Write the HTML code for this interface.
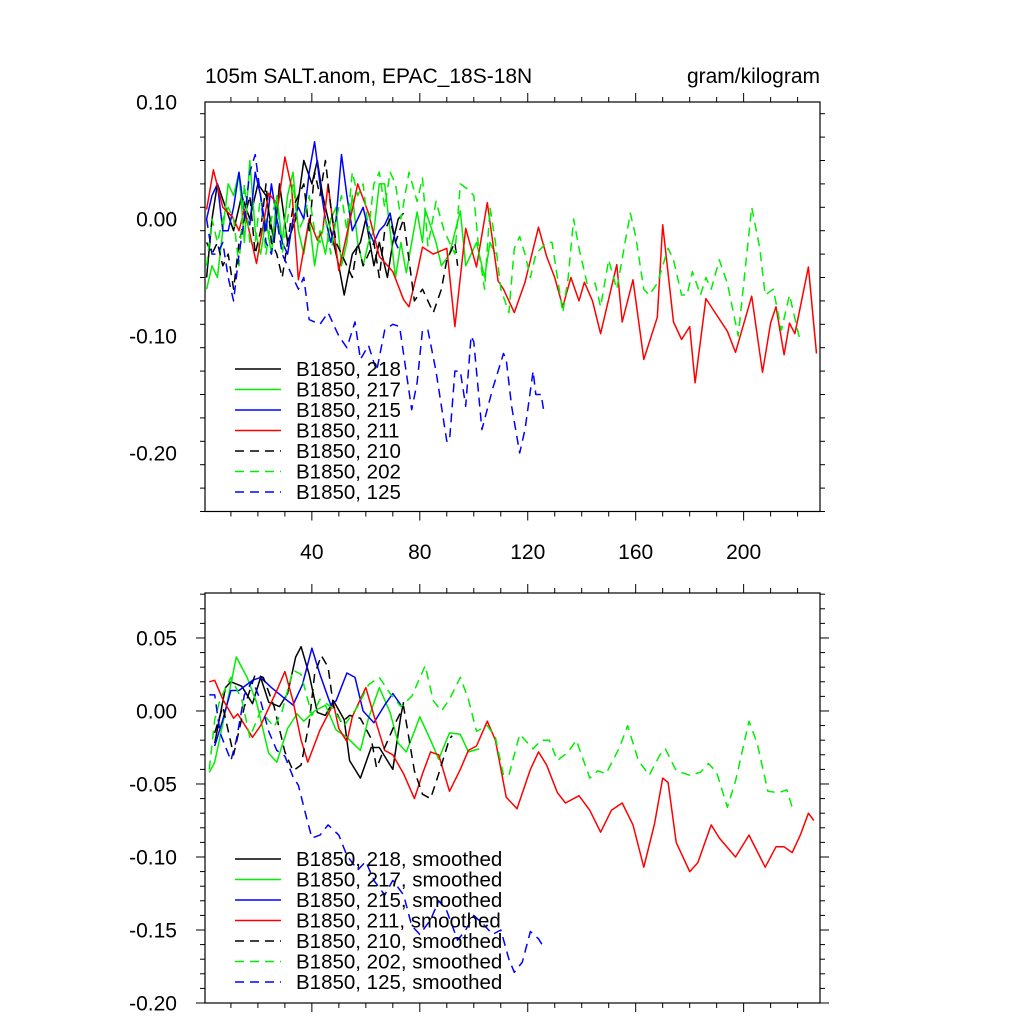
<!DOCTYPE html>
<html><head><meta charset="utf-8">
<style>
html,body{margin:0;padding:0;background:#fff;}
svg{display:block;font-family:"Liberation Sans",sans-serif;}
</style></head>
<body>
<svg id="chart" width="1024" height="1024" viewBox="0 0 1024 1024" xmlns="http://www.w3.org/2000/svg">
<rect width="1024" height="1024" fill="#fff"/>
<text x="205" y="83" font-size="21">105m SALT.anom, EPAC_18S-18N</text>
<text x="820" y="83" font-size="21" text-anchor="end">gram/kilogram</text>
<g id="topPanel"></g>
<g id="botPanel"></g>
</svg>
<script>
// ---------- data (raw panel) ----------
const x218 = [1,3,5,8,11,14,17,20,23,26,28,31,34,37,40,42,44,47,50,52,55,58,60,63,65,68,70,72,74];
const v218 = [-0.05,0.0,0.03,0.01,-0.01,0.02,0.0,0.03,0.02,-0.02,0.03,-0.02,0.0,0.05,0.03,0.05,0.02,-0.01,-0.04,-0.065,-0.03,-0.02,0.0,-0.04,-0.02,-0.05,-0.02,0.0,0.005];
const x217 = [1,3,5,7,9,11,13,15,17,19,21,23,25,27,29,31,33,35,37,39,41,43,45,47,49,51,53,55,57,59,61,63,65,67,69,71,73,75,79,81,82,86,88,91,95,97,101,104,106,108];
const v217 = [-0.06,-0.04,-0.05,-0.01,0.03,0.02,0.04,-0.02,0.05,-0.01,-0.03,0.0,-0.03,0.02,-0.02,0.02,0.04,-0.01,-0.03,0.0,-0.04,-0.01,-0.03,0.0,0.01,-0.04,-0.02,0.02,-0.02,-0.04,-0.02,-0.01,0.03,0.03,-0.01,-0.05,-0.02,-0.046,0.006,-0.02,0.008,-0.02,-0.04,-0.03,0.007,-0.04,-0.02,-0.05,-0.02,-0.03];
const x215 = [1,3,5,7,9,11,13,15,17,19,21,23,25,27,29,31,33,35,37,39,41,43,45,47,49,51,53,55,57,59,61,63,65,67,69,71,72];
const v215 = [0.0,0.02,0.03,-0.01,-0.01,0.01,0.04,0.005,-0.005,0.04,0.02,-0.01,0.03,0.0,-0.02,-0.03,0.0,0.01,0.0,0.04,0.066,0.03,0.0,-0.02,0.0,0.055,0.02,-0.01,0.0,0.01,-0.01,-0.02,-0.01,-0.005,0.005,-0.02,-0.025];
const x211 = [1,3.5,7,10.5,13,15,19.5,24,27.5,30,32.5,35,39,42,44,46,50,55,57,61,65,70,74,76,79,81,85,90,93,97,101,105,109,111,115,119,124,127,130,133,136,139,141,144,147,153,155,159,163,168,170,174,177,180,182,186,190,194,197,203,207,210,212,215,217,219,224,227];
const v211 = [0.008,0.042,0.01,0.002,-0.01,0.008,-0.038,0.022,0.012,0.053,0.027,-0.052,0.0,-0.018,-0.01,0.03,-0.044,0.008,0.03,0.005,-0.032,-0.045,-0.069,-0.075,-0.046,-0.024,-0.03,-0.025,-0.092,-0.008,-0.041,0.014,-0.053,-0.06,-0.08,-0.054,-0.007,-0.032,-0.05,-0.075,-0.05,-0.07,-0.054,-0.07,-0.098,-0.039,-0.088,-0.052,-0.12,-0.084,-0.005,-0.088,-0.103,-0.092,-0.14,-0.068,-0.082,-0.096,-0.114,-0.066,-0.131,-0.089,-0.075,-0.116,-0.089,-0.098,-0.041,-0.115];
const x210 = [1,3,5,7,9,11,13,15,17,19,21,23,25,27,29,31,33,35,37,39,41,43,45,47,49,51,53,55,57,59,61,63,65,67,69,71,74,78,81,85,88,90,93,94];
const v210 = [-0.02,-0.03,-0.02,-0.04,-0.03,-0.06,-0.02,0.0,0.02,-0.03,-0.01,0.03,-0.02,-0.03,-0.05,-0.02,0.01,0.02,0.03,-0.01,0.04,0.02,0.05,0.01,-0.02,-0.03,-0.04,-0.05,-0.02,-0.04,-0.03,-0.02,-0.05,-0.01,0.0,-0.02,0.0,-0.07,-0.06,-0.08,-0.06,-0.035,-0.02,-0.04];
const x202 = [1,3,5,7,9,11,13,15,17,19,21,23,25,27,29,31,33,35,37,39,41,43,45,47,49,51,53,55,57,59,61,63,65,67,69,71,73,76,79,81,83,86,89,93,95,98,100,102,104,106,108,110,113,115,117,119,121,123,127,129,133,135,137,139,142,145,147,150,153,158,160,163,165,168,172,174,177,179,181,184,186,188,191,194,198,203,206,208,211,214,217,221];
const v202 = [-0.04,0.0,-0.02,0.0,0.01,0.0,-0.04,0.03,-0.02,-0.02,0.02,-0.03,0.0,0.02,-0.03,0.0,0.03,-0.01,0.0,0.02,-0.01,-0.02,0.0,-0.03,0.0,0.02,-0.01,0.04,0.02,0.03,-0.01,0.03,0.04,0.01,0.04,0.03,0.0,0.04,0.015,0.035,-0.023,0.015,-0.01,-0.03,0.03,0.025,0.02,-0.03,-0.06,0.01,-0.02,-0.06,-0.08,-0.025,-0.015,-0.03,-0.05,-0.03,-0.02,-0.02,-0.08,-0.05,0.0,-0.025,-0.055,-0.055,-0.075,-0.035,-0.06,0.005,-0.015,-0.06,-0.065,-0.055,-0.025,-0.035,-0.065,-0.065,-0.045,-0.065,-0.05,-0.06,-0.035,-0.055,-0.1,0.01,-0.025,-0.065,-0.06,-0.095,-0.065,-0.105];
const x125 = [1,3,5,7,9,11,13,15,17,19,21,23,25,27,29,31,33,35,37,39,43,46,50,53,56,58,61,64,67,70,72.5,77,79,81,83,86,90,91,93,95,97,99,100,103,107,111,112,114,117,119,122,123,125,126];
const v125 = [0.0,-0.03,-0.03,-0.02,-0.05,-0.07,-0.03,0.0,0.04,0.055,0.02,-0.02,-0.03,0.0,-0.03,-0.04,-0.05,-0.06,-0.05,-0.086,-0.09,-0.08,-0.1,-0.11,-0.088,-0.12,-0.108,-0.13,-0.095,-0.09,-0.092,-0.163,-0.14,-0.095,-0.095,-0.13,-0.19,-0.19,-0.13,-0.13,-0.16,-0.1,-0.105,-0.18,-0.145,-0.115,-0.12,-0.16,-0.2,-0.18,-0.13,-0.15,-0.15,-0.165];

// ---------- data (smoothed panel) ----------
const sx218 = [4,8,10,14,18,21,24,28,31,34,36,39,42,45,48,52,54,58,62,65,70,73,74];
const sv218 = [-0.022,0.016,0.02,0.017,0.005,0.023,0.006,0.003,0.012,0.037,0.044,0.025,-0.001,-0.003,0.007,-0.006,-0.034,-0.046,-0.025,-0.025,-0.04,-0.003,0.006];
const sx217 = [2,4,8,12,16,19.5,24,27,31,34.5,37,41,45,49,53,58,61,65,69,72,75,78,80,84,87,91,95,98,102];
const sv217 = [-0.042,-0.035,0.0,0.037,0.023,0.006,-0.029,-0.035,-0.012,-0.002,-0.007,0.0,0.004,-0.013,-0.018,-0.027,-0.005,0.016,-0.001,-0.022,-0.028,-0.014,-0.004,-0.02,-0.033,-0.015,-0.016,-0.028,-0.026];
const sx215 = [4,7,10,13,18,21,25,29,33,36.5,40,43,47,49,53,56,59,63,67,70,73];
const sv215 = [-0.024,-0.006,0.014,0.014,0.021,0.023,0.016,0.01,0.004,0.018,0.043,0.025,0.004,0.007,0.026,0.023,0.0,-0.008,0.004,0.012,0.004];
const sx211 = [2,4,7,11,12.5,18,21,27,30,33,36,38.5,43,48,50,53,55,60,63,67,70,74,78,81,84,87,91,95,98,101,105,108,112,116,121,124,127,131,134,139,143,147,151,155,159,163,167,170,172,175,180,183,188,191,197,202,208,212,215,218,221,224,226];
const sv211 = [0.02,0.021,0.008,-0.005,-0.002,-0.018,-0.01,0.014,0.027,0.007,-0.02,-0.035,-0.013,0.005,-0.012,-0.021,-0.004,0.016,-0.003,-0.027,-0.03,-0.043,-0.06,-0.043,-0.028,-0.03,-0.055,-0.04,-0.027,-0.024,-0.007,-0.02,-0.059,-0.067,-0.04,-0.028,-0.037,-0.056,-0.063,-0.058,-0.068,-0.083,-0.068,-0.063,-0.078,-0.107,-0.077,-0.046,-0.049,-0.09,-0.11,-0.104,-0.078,-0.087,-0.1,-0.085,-0.107,-0.093,-0.093,-0.097,-0.085,-0.07,-0.075];
const sx210 = [4,7,11,15,19,22,26,30,33,36,39,41,43.5,46,48,51,54,58,62,64,67,71,74,78,81,84,87,91,92];
const sv210 = [-0.015,0.003,-0.03,0.003,0.025,0.023,0.003,-0.028,-0.041,-0.037,-0.008,0.025,0.038,0.03,0.003,-0.008,-0.003,-0.005,-0.019,-0.039,-0.025,-0.008,0.003,-0.041,-0.057,-0.06,-0.043,-0.019,-0.017];
const sx202 = [2,4,6,10,14,17,21,26,29,33,36,40,43,47,52,57,61,65,69,73,77,82,85,88,91,95,98,101,105,108,111,113,117,122,125,128,131,135,138,143,146,149,154,157,161,165,169,171,175,180,184,187,190,194,197,202,205,209,213,216,218];
const sv202 = [-0.04,-0.006,0.008,0.023,0.008,-0.018,0.0,-0.011,0.0,0.028,0.025,-0.003,0.008,0.003,-0.01,0.003,0.018,0.023,0.012,0.003,0.01,0.031,0.007,0.0,0.008,0.023,0.008,-0.014,-0.01,-0.018,-0.044,-0.044,-0.016,-0.026,-0.02,-0.02,-0.034,-0.028,-0.02,-0.046,-0.041,-0.043,-0.025,-0.01,-0.034,-0.044,-0.03,-0.026,-0.041,-0.044,-0.042,-0.036,-0.042,-0.066,-0.048,-0.007,-0.022,-0.055,-0.056,-0.054,-0.066];
const sx125 = [2,4,6,10,12,15,18,21,24,27,30,33,35,38,40,43,46,50,53,57,60,63,67,70,74,77,80,84,87,90,94,97,100,104,107,110,113,115,118,121,124,126];
const sv125 = [0.011,0.011,-0.015,-0.034,-0.02,0.011,0.021,0.007,-0.014,-0.027,-0.031,-0.045,-0.051,-0.073,-0.087,-0.085,-0.078,-0.085,-0.099,-0.109,-0.103,-0.116,-0.126,-0.116,-0.126,-0.147,-0.153,-0.143,-0.13,-0.137,-0.157,-0.15,-0.14,-0.147,-0.153,-0.15,-0.17,-0.179,-0.172,-0.151,-0.156,-0.162];

const yTicksTop = [0.10,0.00,-0.10,-0.20];
const yTickLabelsTop = ["0.10","0.00","-0.10","-0.20"];
const yTicksBot = [0.05,0.00,-0.05,-0.10,-0.15,-0.20];
const yTickLabelsBot = ["0.05","0.00","-0.05","-0.10","-0.15","-0.20"];
const xTicks = [40,80,120,160,200];
const xTickLabels = ["40","80","120","160","200"];
const legendLabels = ["B1850, 218","B1850, 217","B1850, 215","B1850, 211","B1850, 210","B1850, 202","B1850, 125"];

const NS = "http://www.w3.org/2000/svg";
const L = 205, R = 820, XMIN = 0.4, XMAX = 228.3;
function sx(x){ return L + (x - XMIN) / (XMAX - XMIN) * (R - L); }
function mk(tag, attrs, parent){ const e = document.createElementNS(NS, tag); for (const k in attrs) e.setAttribute(k, attrs[k]); parent.appendChild(e); return e; }

const styles = [
  {c:"#000", d:null},{c:"#00ee00", d:null},{c:"#0000ff", d:null},{c:"#ff0000", d:null},
  {c:"#000", d:"9,6"},{c:"#00ee00", d:"9,6"},{c:"#0000ff", d:"9,6"}
];

function panel(g, T, B, ymin, ymax, minorStep, yTicks, yLabels, series, legendTop, suffix){
  const sy = v => B - (v - ymin) / (ymax - ymin) * (B - T);
  series.forEach((s, i) => {
    const pts = s[0].map((x, j) => sx(x).toFixed(1) + "," + sy(s[1][j]).toFixed(1)).join(" ");
    const p = mk("polyline", {points: pts, fill: "none", stroke: styles[i].c, "stroke-width": 1.5, "stroke-linejoin": "round"}, g);
    if (styles[i].d) p.setAttribute("stroke-dasharray", styles[i].d);
    
    
  });
  const fr = mk("rect", {x: L, y: T, width: R - L, height: B - T, fill: "none", stroke: "#000", "stroke-width": 1.2}, g);
  
  
  const nMin = Math.round((ymax - ymin) / minorStep);
  for (let k = 0; k <= nMin; k++) {
    const v = ymin + k * minorStep, y = sy(v);
    if (y < T - 0.5) continue;
    const major = yTicks.some(t => Math.abs(t - v) < 1e-6);
    const len = major ? 9 : 5;
    mk("line", {x1: L - len, x2: L, y1: y, y2: y, stroke: "#000", "stroke-width": 1}, g);
    mk("line", {x1: R, x2: R + len, y1: y, y2: y, stroke: "#000", "stroke-width": 1}, g);
  }
  yTicks.forEach((t, i) => {
    const tx = mk("text", {x: 177, y: sy(t) + 7.5, "font-size": 21, "text-anchor": "end"}, g);
    tx.textContent = yLabels[i];
    
    
  });
  for (let x = 10; x <= 220; x += 10) {
    const major = x % 40 === 0, len = major ? 9 : 5, px = sx(x);
    mk("line", {x1: px, x2: px, y1: B, y2: B + len, stroke: "#000", "stroke-width": 1}, g);
    mk("line", {x1: px, x2: px, y1: T - len, y2: T, stroke: "#000", "stroke-width": 1}, g);
  }
  legendLabels.forEach((lab, i) => {
    const y = legendTop + i * 20.5;
    const ln = mk("line", {x1: 235, x2: 281, y1: y, y2: y, stroke: styles[i].c, "stroke-width": 1.5}, g);
    if (styles[i].d) ln.setAttribute("stroke-dasharray", styles[i].d);
    
    
    const t = mk("text", {x: 296, y: y + 7, "font-size": 20.5}, g);
    t.textContent = lab + suffix;
    
    
  });
  return sy;
}

const topG = document.getElementById("topPanel");
panel(topG, 102, 511.5, -0.25, 0.10, 0.02, yTicksTop, yTickLabelsTop,
  [[x218,v218],[x217,v217],[x215,v215],[x211,v211],[x210,v210],[x202,v202],[x125,v125]], 369, "");
xTicks.forEach((t, i) => {
  const tx = mk("text", {x: sx(t), y: 559, "font-size": 21, "text-anchor": "middle"}, topG);
  tx.textContent = xTickLabels[i];
  
  
});
const botG = document.getElementById("botPanel");
panel(botG, 593, 1003, -0.20, 0.0808, 0.01, yTicksBot, yTickLabelsBot,
  [[sx218,sv218],[sx217,sv217],[sx215,sv215],[sx211,sv211],[sx210,sv210],[sx202,sv202],[sx125,sv125]], 859, ", smoothed");
</script>
</body></html>
